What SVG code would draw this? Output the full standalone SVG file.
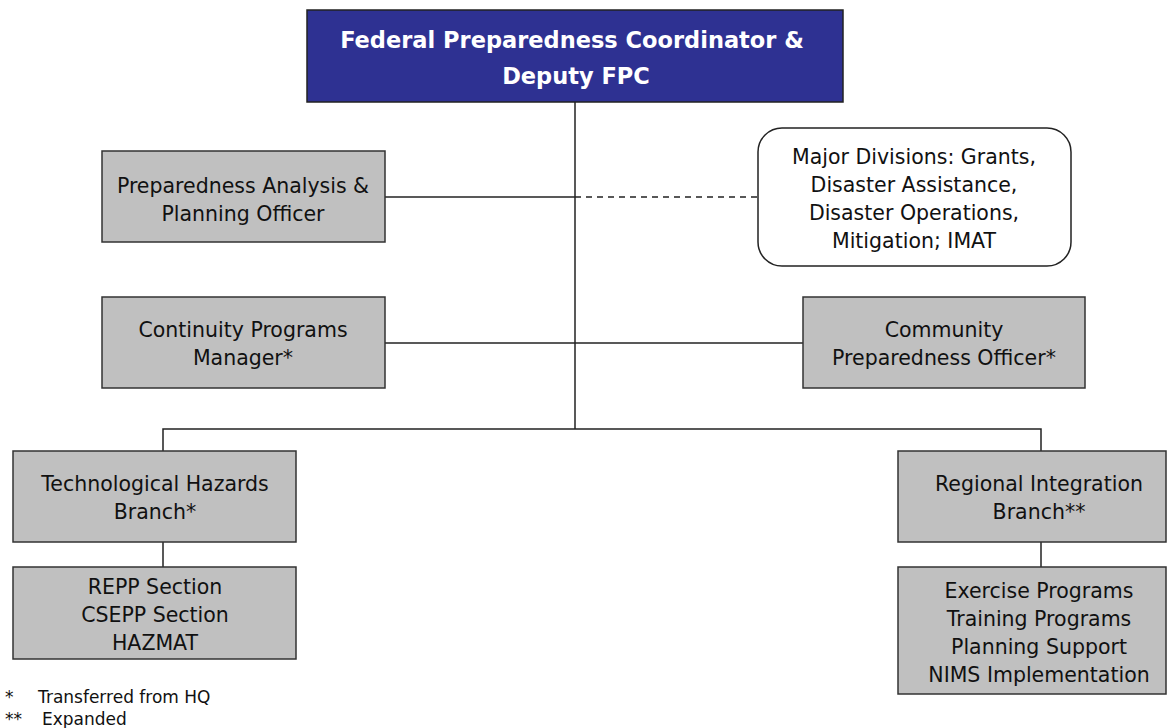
<svg xmlns="http://www.w3.org/2000/svg" width="1167" height="728" viewBox="0 0 1167 728">
<style>
.box{fill:#c0c0c0;stroke:#333;stroke-width:1.5}
.t{font-family:"DejaVu Sans",sans-serif;font-size:20.5px;fill:#111;text-anchor:middle}
.w{font-family:"DejaVu Sans",sans-serif;font-size:22.5px;font-weight:bold;fill:#fff;text-anchor:middle}
.l{font-family:"DejaVu Sans",sans-serif;font-size:17px;fill:#111}
.c{stroke:#222;stroke-width:1.5;fill:none}
</style>
<rect width="1167" height="728" fill="#fff"/>
<g id="connectors">
<line class="c" x1="575" y1="102" x2="575" y2="429"/>
<line class="c" x1="385" y1="197" x2="575" y2="197"/>
<line class="c" x1="575" y1="197" x2="758" y2="197" stroke-dasharray="6,5"/>
<line class="c" x1="385" y1="343" x2="803" y2="343"/>
<polyline class="c" points="163,451 163,429 1041,429 1041,451"/>
<line class="c" x1="163" y1="542" x2="163" y2="567"/>
<line class="c" x1="1041" y1="542" x2="1041" y2="567"/>
</g>
<g id="fpc">
<rect x="307" y="10" width="536" height="92" fill="#2e3192" stroke="#222" stroke-width="1.5"/>
<text class="w" x="572" y="48">Federal Preparedness Coordinator &amp;</text>
<text class="w" x="576" y="84">Deputy FPC</text>
</g>
<g id="analysis">
<rect class="box" x="102" y="151" width="283" height="91"/>
<text class="t" x="243" y="193">Preparedness Analysis &amp;</text>
<text class="t" x="243" y="221">Planning Officer</text>
</g>
<g id="divisions">
<rect x="758" y="128" width="313" height="138" rx="24" fill="#fff" stroke="#222" stroke-width="1.5"/>
<text class="t" x="914" y="164">Major Divisions: Grants,</text>
<text class="t" x="914" y="192">Disaster Assistance,</text>
<text class="t" x="914" y="220">Disaster Operations,</text>
<text class="t" x="914" y="248">Mitigation; IMAT</text>
</g>
<g id="continuity">
<rect class="box" x="102" y="297" width="283" height="91"/>
<text class="t" x="243" y="337">Continuity Programs</text>
<text class="t" x="243" y="365">Manager*</text>
</g>
<g id="community">
<rect class="box" x="803" y="297" width="282" height="91"/>
<text class="t" x="944" y="337">Community</text>
<text class="t" x="944" y="365">Preparedness Officer*</text>
</g>
<g id="tech">
<rect class="box" x="13" y="451" width="283" height="91"/>
<text class="t" x="155" y="491">Technological Hazards</text>
<text class="t" x="155" y="519">Branch*</text>
</g>
<g id="repp">
<rect class="box" x="13" y="567" width="283" height="92"/>
<text class="t" x="155" y="594">REPP Section</text>
<text class="t" x="155" y="622">CSEPP Section</text>
<text class="t" x="155" y="650">HAZMAT</text>
</g>
<g id="regional">
<rect class="box" x="898" y="451" width="268" height="91"/>
<text class="t" x="1039" y="491">Regional Integration</text>
<text class="t" x="1039" y="519">Branch**</text>
</g>
<g id="exercise">
<rect class="box" x="898" y="567" width="268" height="127"/>
<text class="t" x="1039" y="598">Exercise Programs</text>
<text class="t" x="1039" y="626">Training Programs</text>
<text class="t" x="1039" y="654">Planning Support</text>
<text class="t" x="1039" y="682">NIMS Implementation</text>
</g>
<g id="legend">
<text class="l" x="5" y="703">*</text>
<text class="l" x="38" y="703">Transferred from HQ</text>
<text class="l" x="5" y="725">**</text>
<text class="l" x="42" y="725">Expanded</text>
</g>
</svg>
